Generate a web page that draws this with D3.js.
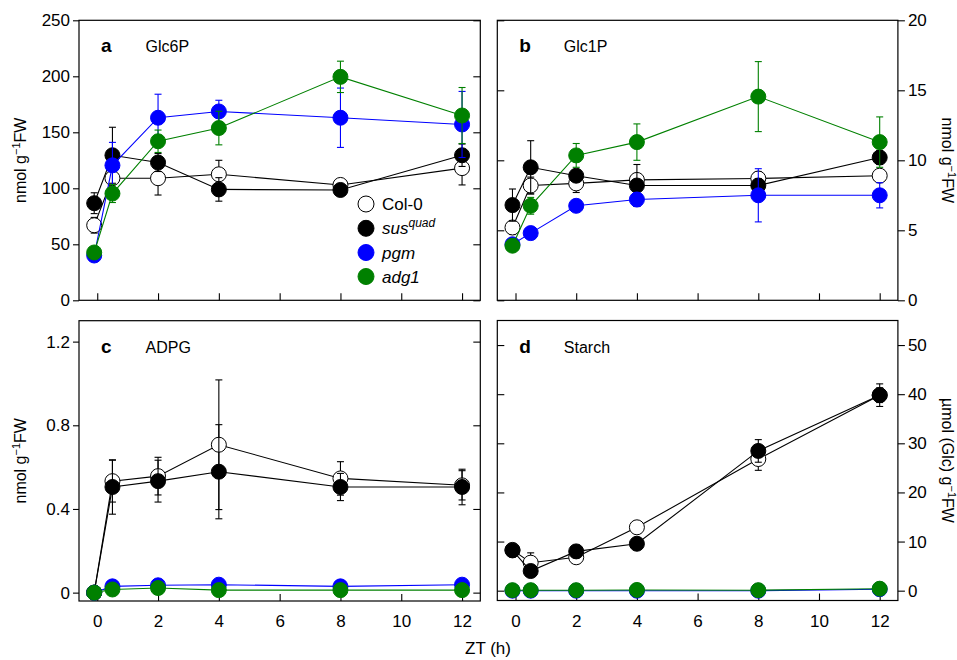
<!DOCTYPE html>
<html>
<head>
<meta charset="utf-8">
<script src="https://cdn.jsdelivr.net/npm/d3@7"></script>
<style>
  html, body { margin: 0; padding: 0; background: #fff; }
  svg { display: block; font-family: "Liberation Sans", Arial, sans-serif; }
</style>
</head>
<body>
<svg id="chart" width="957" height="660"></svg>
<script>
// ---- data ----
const times = [-0.1, 0.5, 2, 4, 8, 12];
const genotypes = ["Col-0", "sus", "pgm", "adg1"];
const xTicks = [0, 2, 4, 6, 8, 10, 12];

// Glc6P (nmol g-1 FW)
const glc6pCol = [67, 109, 109, 112.5, 103, 118];
const glc6pSus = [86.7, 129.5, 123, 99, 98.5, 129.5];
const glc6pPgm = [40, 120.5, 163, 168.6, 163, 157];
const glc6pAdg = [42.7, 95.3, 142, 153.8, 199.5, 165];
const glc6pColErr = [7, 8, 15, 12.5, 3, 15];
const glc6pSusErr = [9.3, 25, 8, 10.5, 3, 10];
const glc6pPgmErr = [3, 20.5, 21, 10, 26.5, 29.5];
const glc6pAdgErr = [3, 8, 10, 15, 14, 25];

// Glc1P (nmol g-1 FW)
const glc1pCol = [5.2, 8.2, 8.35, 8.6, 8.7, 8.9];
const glc1pSus = [6.8, 9.5, 8.9, 8.2, 8.2, 10.2];
const glc1pPgm = [4.0, 4.8, 6.75, 7.2, 7.5, 7.5];
const glc1pAdg = [3.9, 6.75, 10.35, 11.3, 14.55, 11.3];
const glc1pColErr = [0.5, 0.6, 0.65, 0.4, 0.5, 0.4];
const glc1pSusErr = [1.15, 1.9, 0.4, 1.5, 0.5, 0.5];
const glc1pPgmErr = [0.2, 0.3, 0.3, 0.5, 1.9, 0.9];
const glc1pAdgErr = [0.3, 0.6, 0.85, 1.3, 2.5, 1.8];

// ADPG (nmol g-1 FW)
const adpgCol = [0, 0.533, 0.557, 0.707, 0.546, 0.513];
const adpgSus = [0, 0.505, 0.533, 0.578, 0.505, 0.505];
const adpgPgm = [0, 0.03, 0.035, 0.038, 0.03, 0.038];
const adpgAdg = [0, 0.015, 0.022, 0.012, 0.012, 0.012];
const adpgColErr = [0, 0.1, 0.09, 0.31, 0.08, 0.07];
const adpgSusErr = [0, 0.13, 0.1, 0.225, 0.065, 0.085];
const adpgPgmErr = [0, 0.005, 0.005, 0.005, 0.005, 0.005];
const adpgAdgErr = [0, 0.005, 0.005, 0.005, 0.005, 0.005];

// Starch (umol Glc g-1 FW)
const starchCol = [8.3, 5.7, 6.8, 12.9, 26.8, 39.8];
const starchSus = [8.2, 4.0, 8.0, 9.55, 28.45, 39.8];
const starchPgm = [0, 0, 0, 0, 0, 0.3];
const starchAdg = [0.1, 0.1, 0.1, 0.15, 0.1, 0.4];
const starchColErr = [1.0, 2.0, 0.6, 0.6, 2.3, 1.5];
const starchSusErr = [1.3, 0.8, 1.3, 0.5, 2.3, 2.3];
const starchPgmErr = [0.1, 0.1, 0.1, 0.1, 0.1, 0.1];
const starchAdgErr = [0.1, 0.1, 0.1, 0.1, 0.1, 0.1];

const ticksA = [0, 50, 100, 150, 200, 250];
const ticksB = [0, 5, 10, 15, 20];
const ticksC = [0, 0.4, 0.8, 1.2];
const ticksD = [0, 10, 20, 30, 40, 50];

// ---- styles ----
const styles = {
  "Col-0": { fill: "#ffffff", stroke: "#000000", line: "#000000" },
  "sus":   { fill: "#000000", stroke: "#000000", line: "#000000" },
  "pgm":   { fill: "#0000ff", stroke: "#0000ff", line: "#0000ff" },
  "adg1":  { fill: "#008000", stroke: "#008000", line: "#008000" }
};

const panels = [
  { letter: "a", title: "Glc6P", x0: 79, x1: 480.3, y0: 20.3, y1: 300.3, domain: [0, 250], ticks: ticksA, fmt: d3.format("d"), side: "left", xlabels: false,
    series: [glc6pCol, glc6pSus, glc6pPgm, glc6pAdg], errs: [glc6pColErr, glc6pSusErr, glc6pPgmErr, glc6pAdgErr] },
  { letter: "b", title: "Glc1P", x0: 497.3, x1: 897.9, y0: 20.3, y1: 300.3, domain: [0, 20], ticks: ticksB, fmt: d3.format("d"), side: "right", xlabels: false,
    series: [glc1pCol, glc1pSus, glc1pPgm, glc1pAdg], errs: [glc1pColErr, glc1pSusErr, glc1pPgmErr, glc1pAdgErr] },
  { letter: "c", title: "ADPG", x0: 79, x1: 480.3, y0: 320.7, y1: 601, domain: [-0.04, 1.3], ticks: ticksC, fmt: d => d === 0 ? "0" : d3.format(".1f")(d), side: "left", xlabels: true,
    series: [adpgCol, adpgSus, adpgPgm, adpgAdg], errs: [adpgColErr, adpgSusErr, adpgPgmErr, adpgAdgErr] },
  { letter: "d", title: "Starch", x0: 497.3, x1: 897.9, y0: 320.5, y1: 600.5, domain: [-2, 55], ticks: ticksD, fmt: d3.format("d"), side: "right", xlabels: true,
    series: [starchCol, starchSus, starchPgm, starchAdg], errs: [starchColErr, starchSusErr, starchPgmErr, starchAdgErr] }
];

const svg = d3.select("#chart");
const TICK = 7;
const R = 7.5;

panels.forEach(p => {
  const x = d3.scaleLinear().domain([-0.6, 12.6]).range([p.x0, p.x1]);
  const y = d3.scaleLinear().domain(p.domain).range([p.y1, p.y0]);
  const g = svg.append("g");

  // frame
  g.append("rect").attr("x", p.x0).attr("y", p.y0)
    .attr("width", p.x1 - p.x0).attr("height", p.y1 - p.y0)
    .attr("fill", "none").attr("stroke", "#000").attr("stroke-width", 1.2);

  // bottom axis (inward ticks)
  const xa = d3.axisBottom(x).tickValues(xTicks).tickSizeInner(-TICK).tickSizeOuter(0).tickPadding(14)
    .tickFormat(p.xlabels ? d3.format("d") : "");
  const gx = g.append("g").attr("transform", `translate(0,${p.y1})`).call(xa);

  // y axes: labelled outer axis + mirrored inward ticks
  let ga, gm;
  if (p.side === "left") {
    ga = g.append("g").attr("transform", `translate(${p.x0},0)`)
      .call(d3.axisLeft(y).tickValues(p.ticks).tickSizeInner(6).tickSizeOuter(0).tickPadding(3).tickFormat(p.fmt));
    gm = g.append("g").attr("transform", `translate(${p.x1},0)`)
      .call(d3.axisRight(y).tickValues(p.ticks).tickSizeInner(-TICK).tickSizeOuter(0).tickFormat(""));
  } else {
    ga = g.append("g").attr("transform", `translate(${p.x1},0)`)
      .call(d3.axisRight(y).tickValues(p.ticks).tickSizeInner(7).tickSizeOuter(0).tickPadding(3).tickFormat(p.fmt));
    gm = g.append("g").attr("transform", `translate(${p.x0},0)`)
      .call(d3.axisLeft(y).tickValues(p.ticks).tickSizeInner(-TICK).tickSizeOuter(0).tickFormat(""));
  }
  [gx, ga, gm].forEach(a => {
    a.select(".domain").remove();
    a.selectAll("line").attr("stroke", "#000").attr("stroke-width", 1.1);
    a.selectAll("text").attr("font-size", 17).attr("fill", "#000")
      .attr("font-family", "'Liberation Sans', Arial, sans-serif");
  });

  // letter + title
  g.append("text").attr("x", p.x0 + 22).attr("y", p.y0 + 32 - (p.letter === "c" || p.letter === "d" ? 0 : 0))
    .attr("font-size", 19).attr("font-weight", "bold").text(p.letter);
  g.append("text").attr("x", p.x0 + 66.5).attr("y", p.y0 + 32)
    .attr("font-size", 16).text(p.title);

  // series
  p.series.forEach((vals, si) => {
    const st = styles[genotypes[si]];
    const errs = p.errs[si];
    const pts = times.map((t, i) => ({ t, v: vals[i], e: errs[i] }));
    const sg = g.append("g");
    sg.append("path").datum(pts)
      .attr("d", d3.line().x(d => x(d.t)).y(d => y(d.v)))
      .attr("fill", "none").attr("stroke", st.line).attr("stroke-width", 1.1);
    const eb = sg.selectAll(".eb").data(pts).enter().append("g");
    eb.append("line").attr("x1", d => x(d.t)).attr("x2", d => x(d.t))
      .attr("y1", d => y(d.v - d.e)).attr("y2", d => y(d.v + d.e))
      .attr("stroke", st.line).attr("stroke-width", 1.1);
    [-1, 1].forEach(s => {
      eb.append("line").attr("x1", d => x(d.t) - 3.5).attr("x2", d => x(d.t) + 3.5)
        .attr("y1", d => y(d.v + s * d.e)).attr("y2", d => y(d.v + s * d.e))
        .attr("stroke", st.line).attr("stroke-width", 1.1);
    });
    sg.selectAll("circle").data(pts).enter().append("circle")
      .attr("cx", d => x(d.t)).attr("cy", d => y(d.v)).attr("r", R)
      .attr("fill", st.fill).attr("stroke", st.stroke).attr("stroke-width", 1);
  });
});

// legend (panel a)
const legend = svg.append("g");
const legendY = [204, 228.3, 252.5, 276.5];
genotypes.forEach((gname, i) => {
  const st = styles[gname];
  legend.append("circle").attr("cx", 366).attr("cy", legendY[i]).attr("r", 8)
    .attr("fill", st.fill).attr("stroke", st.stroke).attr("stroke-width", 1);
  const t = legend.append("text").attr("x", 382).attr("y", legendY[i] + 6).attr("font-size", 17);
  if (gname === "Col-0") {
    t.text("Col-0");
  } else if (gname === "sus") {
    t.attr("font-style", "italic");
    t.append("tspan").text("sus");
    t.append("tspan").attr("dy", -7).attr("font-size", 12).text("quad");
  } else {
    t.attr("font-style", "italic").text(gname);
  }
});

// axis titles
function unitLabel(sel, prefix) {
  sel.append("tspan").text(prefix + "g");
  sel.append("tspan").attr("dy", -6).attr("font-size", 11).text("\u22121");
  sel.append("tspan").attr("dy", 6).text("FW");
}
[[20, 160.3], [20, 460.8]].forEach(([cx, cy]) => {
  const t = svg.append("text").attr("transform", `translate(${cx + 6},${cy}) rotate(-90)`)
    .attr("text-anchor", "middle").attr("font-size", 16);
  unitLabel(t, "nmol ");
});
{
  const t = svg.append("text").attr("transform", `translate(${942},160.3) rotate(90)`)
    .attr("text-anchor", "middle").attr("font-size", 16);
  unitLabel(t, "nmol ");
}
{
  const t = svg.append("text").attr("transform", `translate(${942},460.5) rotate(90)`)
    .attr("text-anchor", "middle").attr("font-size", 16);
  unitLabel(t, "\u00b5mol (Glc) ");
}
svg.append("text").attr("x", 488).attr("y", 654).attr("text-anchor", "middle")
  .attr("font-size", 17).text("ZT (h)");
</script>
</body>
</html>
